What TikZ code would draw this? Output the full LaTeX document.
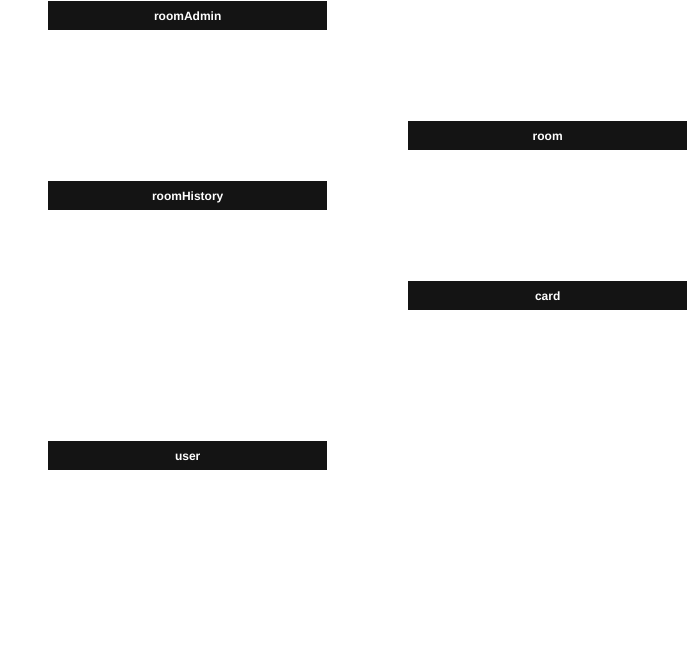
\documentclass[tikz,border=0pt]{standalone}
\usepackage{fontspec}
\setmainfont{Liberation Sans}
\usepackage{tikz}
\usetikzlibrary{positioning}

\definecolor{headbg}{HTML}{141414}

\begin{document}
\begin{tikzpicture}[x=1pt,y=-1pt,
  tablehead/.style={fill=headbg,text=white,anchor=north west,inner sep=0pt,
    text height=10.5pt,text depth=0pt,
    minimum width=279pt,minimum height=29pt,font=\fontsize{12}{14}\selectfont\bfseries}]
\useasboundingbox (0,0) rectangle (688,651);
\path (48,1)   node[tablehead] (roomAdmin) {roomAdmin};
\path (48,181) node[tablehead] (roomHistory) {roomHistory};
\path (48,441) node[tablehead] (user) {user};
\path (408,121) node[tablehead] (room) {room};
\path (408,281) node[tablehead] (card) {card};
\end{tikzpicture}
\end{document}
